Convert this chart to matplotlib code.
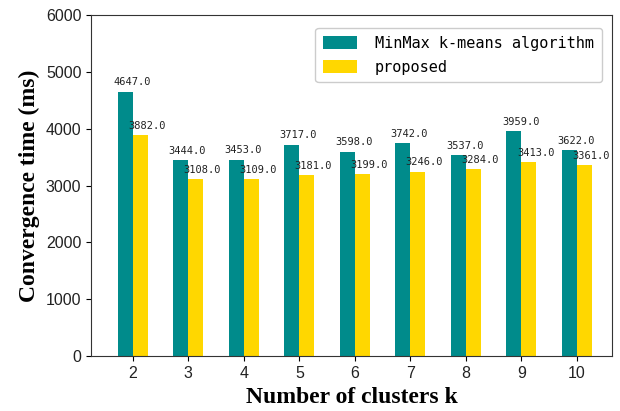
import matplotlib
matplotlib.use("Agg")
import matplotlib.pyplot as plt
import numpy as np

clusters = [2, 3, 4, 5, 6, 7, 8, 9, 10]
minmax = [4647.0, 3444.0, 3453.0, 3717.0, 3598.0, 3742.0, 3537.0, 3959.0, 3622.0]
proposed = [3882.0, 3108.0, 3109.0, 3181.0, 3199.0, 3246.0, 3284.0, 3413.0, 3361.0]

fig = plt.figure(figsize=(6.2, 4.11), dpi=100)
ax = fig.add_axes([0.147, 0.134, 0.84, 0.829])

x = np.array(clusters, dtype=float)
w = 0.27
ax.bar(x - w, minmax, w, align='edge', color='#008B8B', label='MinMax k-means algorithm')
ax.bar(x, proposed, w, align='edge', color='#FFD700', label='proposed')

for xi, a, b in zip(x, minmax, proposed):
    ax.text(xi - w / 2 + 0.12, a + 80, '%.1f' % a, ha='center', va='bottom',
            family='DejaVu Sans Mono', fontsize=7.5, color='#222222')
    ax.text(xi + w / 2 + 0.12, b + 80, '%.1f' % b, ha='center', va='bottom',
            family='DejaVu Sans Mono', fontsize=7.5, color='#222222')

ax.set_xlim(1.25, 10.63)
ax.set_ylim(0, 6000)
ax.set_xticks(clusters)
ax.set_yticks([0, 1000, 2000, 3000, 4000, 5000, 6000])
for lab in ax.get_xticklabels() + ax.get_yticklabels():
    lab.set_family('Liberation Sans')
    lab.set_fontsize(11.5)
    lab.set_color('#222222')

ax.set_xlabel('Number of clusters k', family='Liberation Serif', fontweight='bold',
              fontsize=17, labelpad=4.5)
ax.set_ylabel('Convergence time (ms)', family='Liberation Serif', fontweight='bold',
              fontsize=17, labelpad=4)

for s in ax.spines.values():
    s.set_color('#333333')

ax.legend(loc='upper right', prop={'family': 'DejaVu Sans Mono', 'size': 11},
          handlelength=2.2, handleheight=0.9, borderpad=0.5, labelspacing=0.6,
          handletextpad=1.2, fancybox=True, framealpha=1, edgecolor='#cccccc',
          bbox_to_anchor=(0.995, 0.985))

fig.savefig('out.png', dpi=100)
